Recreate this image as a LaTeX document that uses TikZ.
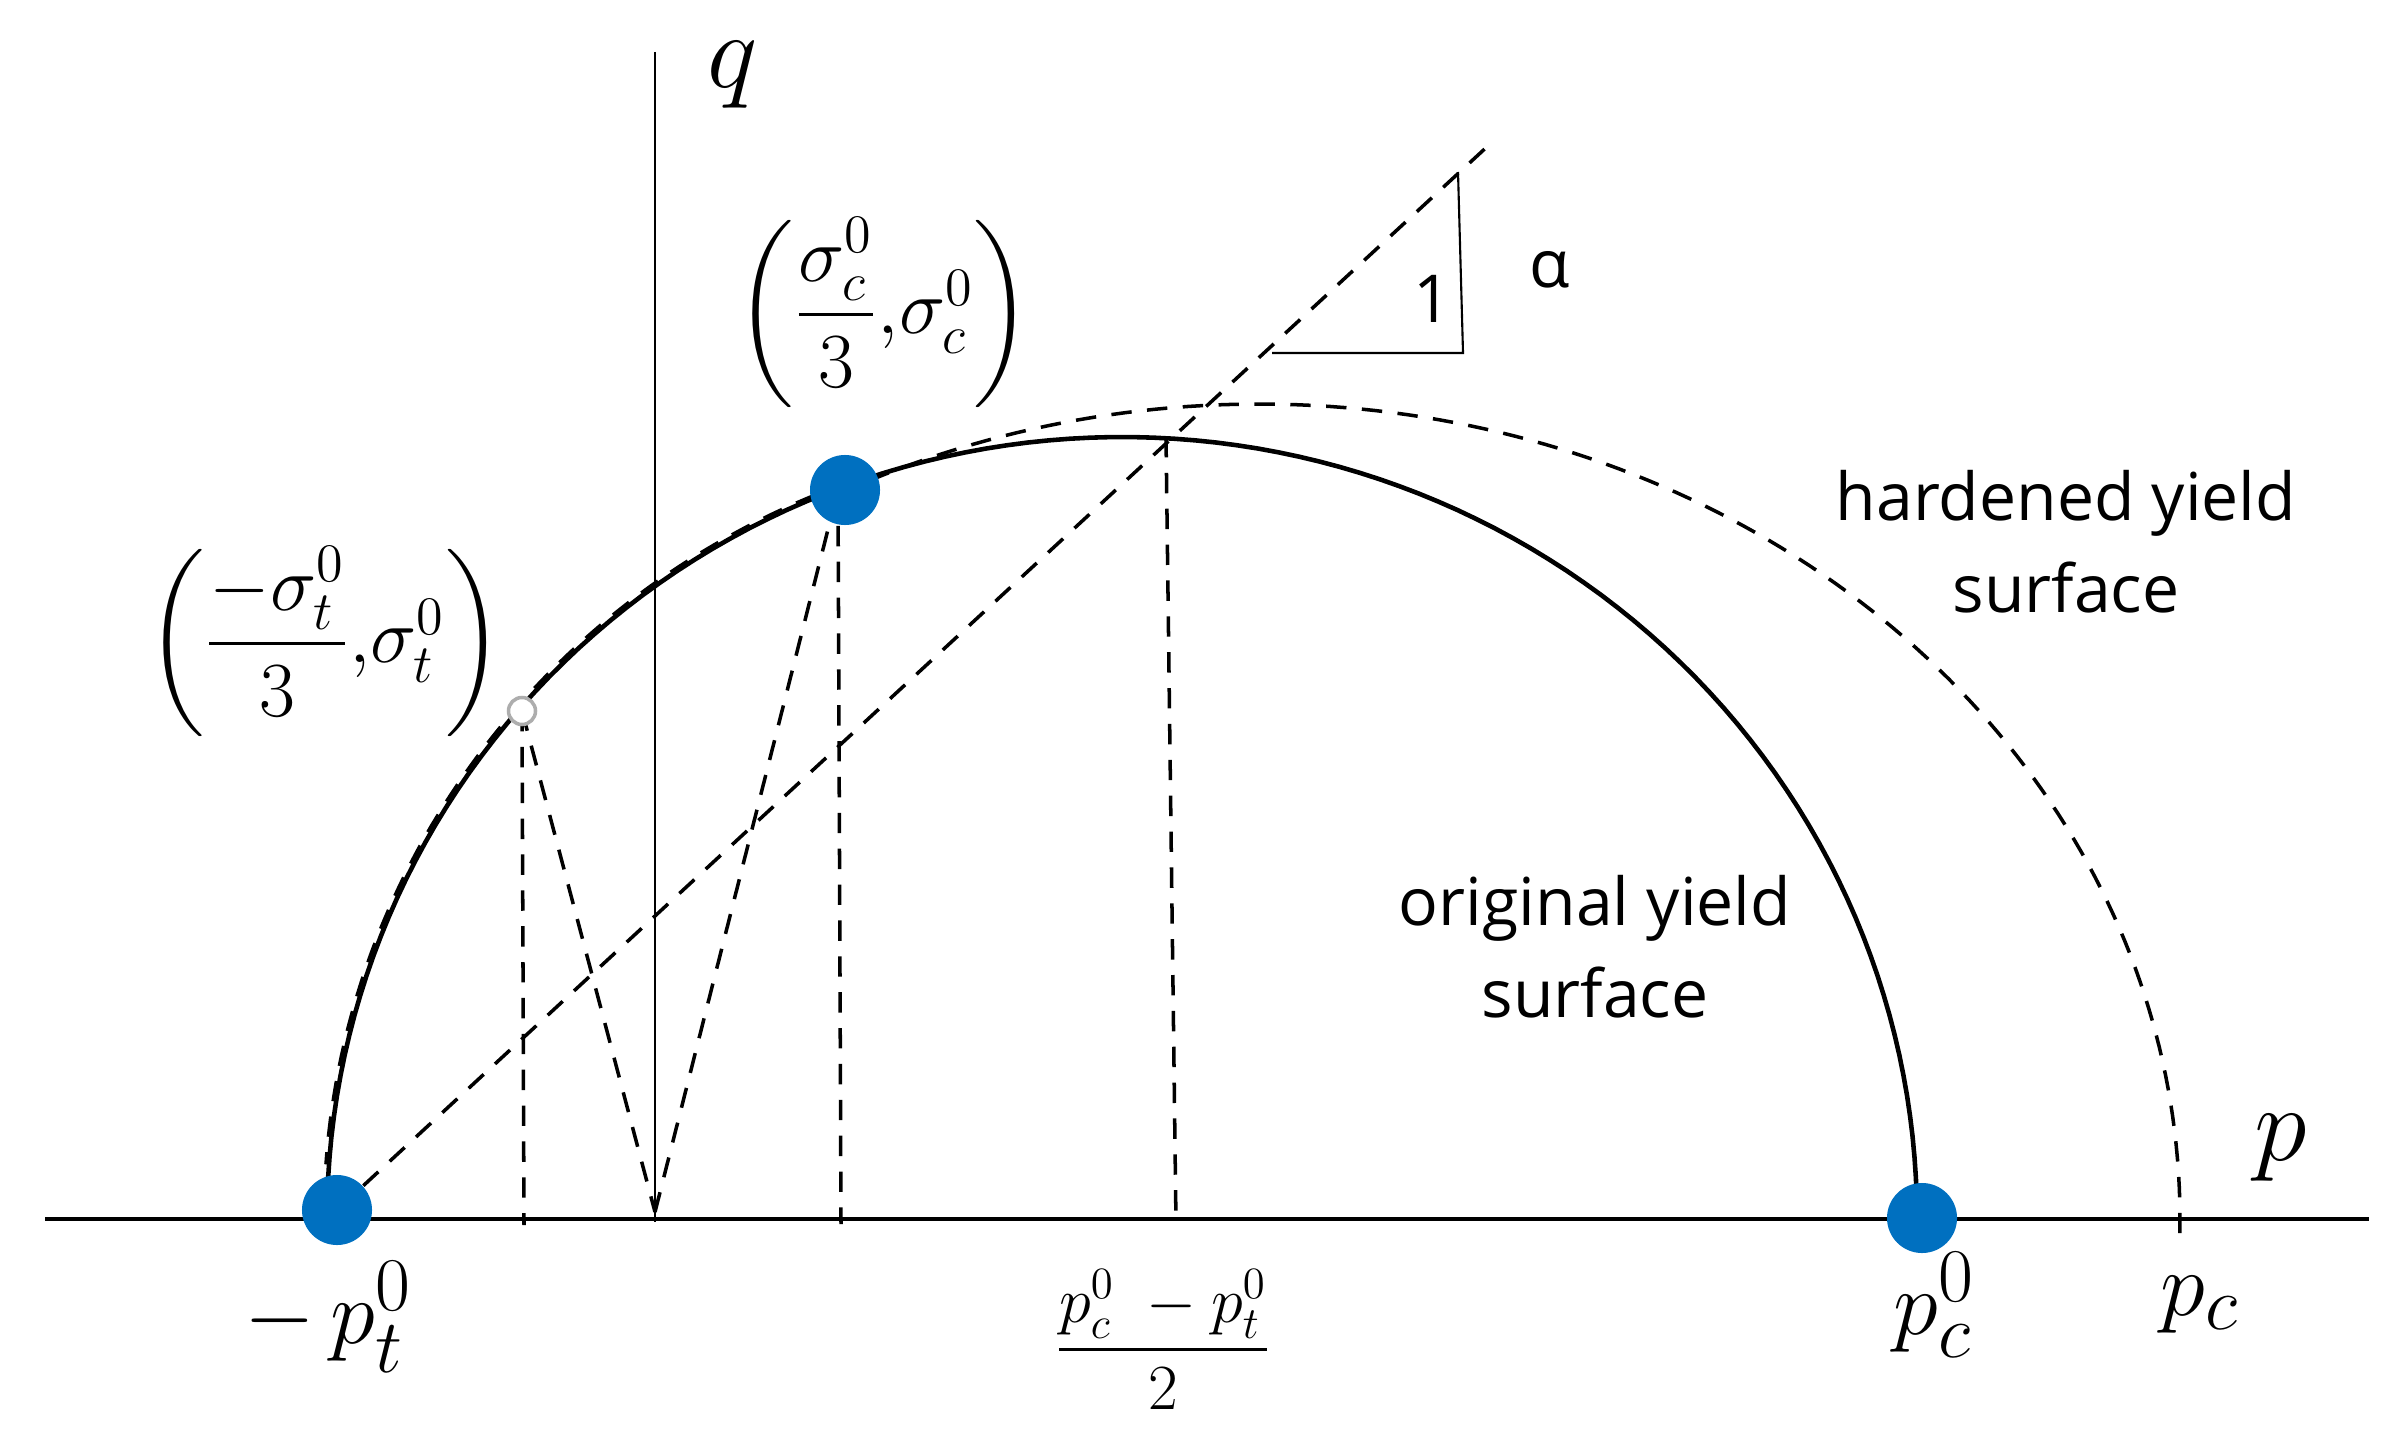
\documentclass[tikz,border=0pt]{standalone}
\usepackage{amsmath}
\usepackage{fontspec}
\setmainfont{Open Sans}
\definecolor{dotblue}{HTML}{0070C0}
\definecolor{ringgray}{gray}{0.68}
\tikzset{
  axisline/.style={black,line width=0.95pt},
  thinline/.style={black,line width=0.6pt},
  curveline/.style={black,line width=1.3pt},
  dashline/.style={black,line width=1pt,dash pattern=on 5.8pt off 4.4pt},
  bluedot/.style={circle,fill=dotblue,inner sep=0pt,minimum size=0.70cm},
  ringdot/.style={circle,fill=white,draw=ringgray,line width=1pt,inner sep=0pt,minimum size=0.27cm},
  words/.style={align=center,inner sep=0pt,font=\fontsize{18.8}{26.2}\selectfont},
  hugemath/.style={inner sep=0pt,scale=1.22,font=\fontsize{24.88}{30}\selectfont},
  bigmath/.style={inner sep=0pt,scale=1.04,font=\fontsize{24.88}{30}\selectfont},
  midmath/.style={inner sep=0pt,scale=1.06,font=\fontsize{17.28}{22}\selectfont},
  pairmath/.style={inner sep=0pt,scale=1.07,font=\fontsize{20}{24}\selectfont}
}
\begin{document}
\begin{tikzpicture}[x=0.01cm,y=-0.01cm]
\path[use as bounding box] (0,0) rectangle (2407,1437);
% anchors
\coordinate (xa) at (45,1219);
\coordinate (xb) at (2369,1219);
\coordinate (ya) at (655,52);
\coordinate (yb) at (655,1222);
\coordinate (Dl) at (337,1210);
\coordinate (Dt) at (845,490);
\coordinate (Dr) at (1922,1218);
\coordinate (Dg) at (522,711);
\coordinate (apex) at (1166,437);
\coordinate (tt) at (838,490);
\coordinate (gf) at (524,1225);
\coordinate (tf) at (841,1224);
\coordinate (af) at (1176,1224);
\coordinate (zz) at (655,1212);
\coordinate (ltop) at (1490,144);
\coordinate (ta) at (1272,353);
\coordinate (tb) at (1463,353);
\coordinate (tc) at (1458,172);
% axes
\draw[axisline] (xa) -- (xb);
\draw[thinline] (ya) -- (yb);
% yield surfaces
\draw[curveline,domain=0:180,samples=120] plot ({1122+795*cos(\x)},{1219-782*sin(\x)});
\draw[dashline,domain=115:-1.6,samples=120] plot ({1259+921*cos(\x)},{1219-815*sin(\x)});
\draw[dashline,domain=110:176,samples=100] plot ({1121+797*cos(\x)},{1219-784*sin(\x)});
% dashed construction lines
\draw[dashline] (Dl) -- (ltop);
\draw[dashline] (Dg) -- (gf);
\draw[dashline] (Dg) -- (zz);
\draw[dashline] (zz) -- (tt);
\draw[dashline] (tt) -- (tf);
\draw[dashline] (apex) -- (af);
% slope triangle
\draw[thinline] (ta) -- (tb) -- (tc);
% points
\node[bluedot] (nl) at (Dl) {};
\node[bluedot] (nt) at (Dt) {};
\node[bluedot] (nr) at (Dr) {};
\node[ringdot] (ng) at (Dg) {};
% labels
\node[hugemath] (lq) at (733,75) {$q$};
\node[hugemath] (lp) at (2281,1148) {$p$};
\node[bigmath] (lpt) at (328,1317) {$-\,p_t^0$};
\node[bigmath] (lpc0) at (1934,1305) {$p_c^0$};
\node[bigmath] (lpc) at (2200,1305) {$p_c$};
\node[midmath] (lmid) at (1163,1340) {$\dfrac{p_c^0\;-p_t^0}{2}$};
\node[pairmath] (ls1) at (884,313) {$\left(\dfrac{\sigma_c^0}{3},\!\sigma_c^0\right)$};
\node[pairmath] (ls2) at (325,642) {$\left(\dfrac{-\sigma_t^0}{3},\!\sigma_t^0\right)$};
\node[words] (lone) at (1432,299) {1};
\node[words] (lal) at (1550,270) {α};
\node[words] (lh) at (2066,542) {hardened yield\\surface};
\node[words] (lo) at (1595,947) {original yield\\surface};
\end{tikzpicture}
\end{document}
